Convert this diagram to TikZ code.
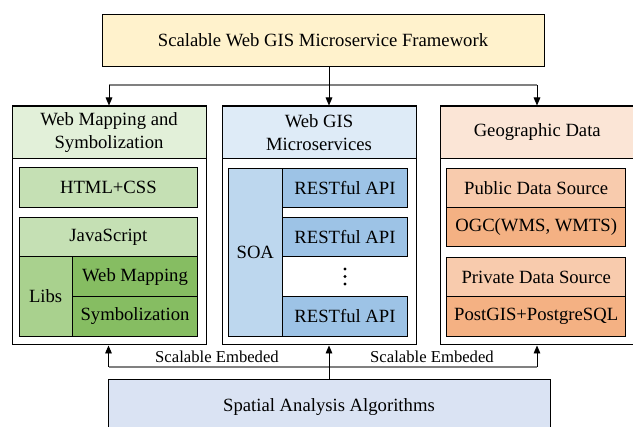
\documentclass[tikz,border=0pt]{standalone}
\usepackage{fontspec}
\setmainfont{Liberation Serif}
\usetikzlibrary{arrows.meta}

\definecolor{topfill}{HTML}{FFF2CC}
\definecolor{grnhead}{HTML}{E2F0D9}
\definecolor{grnlight}{HTML}{C5E0B4}
\definecolor{grnmid}{HTML}{A9D18E}
\definecolor{grndark}{HTML}{86BD62}
\definecolor{bluhead}{HTML}{DEEBF7}
\definecolor{blulight}{HTML}{BDD7EE}
\definecolor{bludark}{HTML}{9DC3E6}
\definecolor{orghead}{HTML}{FBE5D6}
\definecolor{orglight}{HTML}{F8CBAD}
\definecolor{orgdark}{HTML}{F4B183}
\definecolor{botfill}{HTML}{DAE3F3}
\definecolor{busgray}{HTML}{808080}

\tikzset{
  box/.style={draw=black, line width=0.6pt, inner sep=0pt, align=center,
    font=\fontsize{14}{17.25}\selectfont},
  panel/.style={draw=black, line width=0.75pt, inner sep=0pt},
  arr/.style={draw=black, line width=0.7pt, -{Triangle[length=6pt,width=5pt]}},
  bus/.style={draw=busgray, line width=1.1pt},
  lbl/.style={font=\fontsize{12.5}{15}\selectfont, inner sep=0pt, anchor=base},
}

% rectangle node spanning two corners given in pixel units
\newcommand\cornerbox[7]{%
  \node[#2, minimum width={(#5-#3)*0.75pt}, minimum height={(#6-#4)*0.75pt}]
    (#1) at ({(#3+#5)/2},{(#4+#6)/2}) {#7};}

\begin{document}
\begin{tikzpicture}[x=0.75pt,y=-0.75pt]
\clip (0,0) rectangle (633,427);
\fill[white] (0,0) rectangle (633,427);

% framework title
\cornerbox{top}{box, fill=topfill}{102}{14}{544}{66.5}{Scalable Web GIS Microservice Framework}

% left panel: web mapping
\cornerbox{lp}{panel}{12}{106}{206}{345}{}
\cornerbox{lph}{box, fill=grnhead}{12}{106}{206}{158.7}{Web Mapping and\\Symbolization}
\cornerbox{html}{box, fill=grnlight}{19}{167.7}{197.7}{207.3}{HTML+CSS}
\cornerbox{js}{box, fill=grnlight}{19}{217.7}{197.7}{256.7}{JavaScript}
\cornerbox{libs}{box, fill=grnmid}{19}{256.7}{72.3}{336}{Libs}
\cornerbox{wm}{box, fill=grndark}{72.3}{256.7}{197.7}{296.7}{Web Mapping}
\cornerbox{sym}{box, fill=grndark}{72.3}{296.7}{197.7}{336}{Symbolization}

% middle panel: microservices
\cornerbox{mp}{panel}{222}{106}{416}{345}{}
\cornerbox{mph}{box, fill=bluhead}{222}{106}{416}{158.7}{Web GIS\\Microservices}
\cornerbox{soa}{box, fill=blulight}{228.3}{168.3}{282.3}{336}{SOA}
\cornerbox{api1}{box, fill=bludark}{282.3}{168.3}{407.7}{207.3}{RESTful API}
\cornerbox{api2}{box, fill=bludark}{282.3}{217.7}{407.7}{256.7}{RESTful API}
\cornerbox{api3}{box, fill=bludark}{282.3}{296.7}{407.7}{336}{RESTful API}
\foreach \yy in {269,276.5,284} \fill[black] (345,\yy) circle (1.2pt);

% right panel: data
\cornerbox{rp}{panel}{440}{106}{634.5}{345}{}
\cornerbox{rph}{box, fill=orghead}{440}{106}{634.5}{158.7}{Geographic Data}
\cornerbox{pub}{box, fill=orglight}{446.7}{168.3}{625.7}{207.3}{Public Data Source}
\cornerbox{ogc}{box, fill=orgdark}{446.7}{207.3}{625.7}{246.7}{OGC(WMS, WMTS)}
\cornerbox{priv}{box, fill=orglight}{446.7}{257.3}{625.7}{296.7}{Private Data Source}
\cornerbox{pg}{box, fill=orgdark}{446.7}{296.7}{625.7}{336}{PostGIS+PostgreSQL}

% spatial analysis
\cornerbox{bot}{box, fill=botfill}{108}{379.3}{550}{435}{Spatial Analysis Algorithms}

% distribution bus from the framework
\coordinate (tl) at (109,85);
\coordinate (tm) at (329,85);
\coordinate (tr) at (537,85);
\draw[bus] (tl) -- (tr);
\draw[arr] (top.south -| tm) -- (mp.north -| tm);
\draw[arr] (tl) -- (lp.north -| tl);
\draw[arr] (tr) -- (rp.north -| tr);

% embedding bus from the algorithms
\coordinate (bl) at (108.5,367);
\coordinate (bm) at (329,367);
\coordinate (br) at (537,367);
\draw[bus] (bl) -- (br);
\draw[arr] (bl) -- (lp.south -| bl);
\draw[arr] (bot.north -| bm) -- (mp.south -| bm);
\draw[arr] (br) -- (rp.south -| br);
\node[lbl] (e1) at (217,362.5) {Scalable Embeded};
\node[lbl] (e2) at (432,362.5) {Scalable Embeded};
\end{tikzpicture}
\end{document}
